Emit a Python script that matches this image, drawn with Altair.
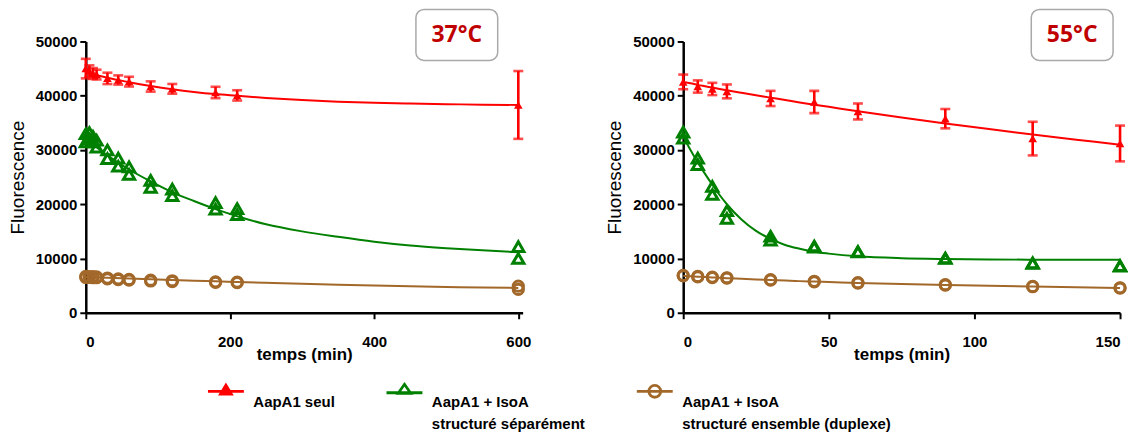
import altair as alt
import pandas as pd

SERIES = ["AapA1 seul", "AapA1 + IsoA\nstructuré séparément", "AapA1 + IsoA\nstructuré ensemble (duplexe)"]
COLORS = ["#ff0000", "#008000", "#a2682a"]
TEMPS = ["37°C", "55°C"]

# ---------- 37 °C ----------
T37 = [0, 5, 10, 15, 30, 45, 60, 90, 120, 180, 210, 600]
red37_mean = [45000, 44550, 44100, 43900, 43200, 42900, 42600, 41700, 41270, 40600, 40060, 38300]
red37_sd = [1800, 1050, 1000, 900, 1050, 850, 900, 950, 900, 1050, 950, 6250]
green37_a = [33000, 33200, 32500, 31800, 30000, 28500, 26900, 24400, 22800, 20300, 19200, 12200]
green37_b = [31500, 32000, 31500, 30500, 28400, 27000, 25500, 23100, 21600, 19100, 18100, 10000]
brown37_a = [6700, 6650, 6650, 6600, 6400, 6250, 6150, 6000, 5900, 5700, 5650, 4900]
brown37_b = [6500, 6500, 6450, 6450, 6250, 6100, 6000, 5850, 5750, 5600, 5550, 4300]
FIT37_T = [0, 15, 30, 60, 90, 120, 150, 180, 210, 250, 300, 350, 400, 450, 500, 550, 600]
red37_fit = [44300, 43800, 43300, 42500, 41800, 41200, 40700, 40300, 40000, 39600, 39200, 38900, 38700, 38550, 38450, 38350, 38300]
green37_fit = [32000, 30500, 29000, 26400, 24200, 22200, 20600, 19100, 17800, 16300, 15000, 14000, 13100, 12400, 11900, 11500, 11150]
brown37_fit = [6600, 6530, 6450, 6300, 6170, 6040, 5910, 5790, 5670, 5520, 5340, 5170, 5020, 4880, 4760, 4660, 4580]
X37_TICKS = [0, 200, 400, 600]

# ---------- 55 °C ----------
T55 = [0, 5, 10, 15, 30, 45, 60, 90, 120, 150]
red55_mean = [42550, 41700, 41250, 40800, 39500, 38850, 37100, 35770, 32100, 31200]
red55_sd = [1350, 1130, 1130, 1280, 1400, 2050, 1470, 1780, 3100, 3300]
green55_a = [33300, 28500, 23300, 18800, 14100, 12300, 11300, 10100, 9200, 8700]
green55_b = [32200, 27300, 21800, 17400, 13400, 12100, 11200, 10000, 9100, 8600]
brown55_a = [6900, 6700, 6580, 6450, 6100, 5800, 5550, 5170, 4850, 4600]
brown55_b = [6800, 6600, 6480, 6370, 6000, 5700, 5450, 5100, 4800, 4560]
FIT55_T = [0, 2.5, 5, 7.5, 10, 12.5, 15, 20, 25, 30, 35, 40, 45, 50, 60, 75, 90, 105, 120, 135, 150]
red55_fit = [42550, 42300, 42000, 41750, 41500, 41250, 41000, 40550, 40100, 39650, 39200, 38750, 38350, 37950,
             37150, 36000, 34900, 33850, 32850, 31900, 30950]
green55_fit = [32500, 30000, 27700, 25600, 23600, 21700, 20000, 17200, 15100, 13600, 12500, 11800, 11250, 10900,
               10400, 10050, 9900, 9820, 9780, 9760, 9750]
brown55_fit = [6800, 6720, 6650, 6580, 6510, 6440, 6380, 6250, 6130, 6030, 5930, 5830, 5740, 5660,
               5500, 5290, 5120, 4960, 4820, 4690, 4580]
X55_TICKS = [0, 50, 100, 150]

Y_TICKS = [0, 10000, 20000, 30000, 40000, 50000]

FONT = "Liberation Sans"

# legend glyphs (line + marker); red triangle drawn as nested outlines so it reads as filled
LEGEND_PATHS = [
    "M-1,-0.61H1M0,-0.95L0.3,-0.46L-0.3,-0.46ZM0,-0.82L0.16,-0.53L-0.16,-0.53ZM0,-0.7V-0.5",
    "M-1,-0.53H1M0,-1.0L0.35,-0.5L-0.35,-0.5Z",
    "M-1,-0.61H1M0.33,-0.61A0.33,0.33 0 1,1 -0.33,-0.61A0.33,0.33 0 1,1 0.33,-0.61Z",
]

color_scale = alt.Scale(domain=SERIES, range=COLORS)


def frame(t, vals, name):
    return pd.DataFrame({"t": t, "v": vals, "series": name})


def panel(temp, t, rmean, rsd, greens, browns, fit_t, rfit, gfit, bfit, xmax, xticks, width, box_x, legend):
    fits = pd.concat([frame(fit_t, rfit, SERIES[0]), frame(fit_t, gfit, SERIES[1]), frame(fit_t, bfit, SERIES[2])])
    red = pd.DataFrame({"t": t, "v": rmean, "series": SERIES[0]})
    red["lo"] = red["v"] - pd.Series(rsd)
    red["hi"] = red["v"] + pd.Series(rsd)
    green = pd.concat([frame(t, g, SERIES[1]) for g in greens])
    brown = pd.concat([frame(t, b, SERIES[2]) for b in browns])

    x = alt.X("t:Q", scale=alt.Scale(domain=[0, xmax], nice=False, zero=True),
              axis=alt.Axis(values=xticks, title="temps (min)", labelPadding=16, titleY=34,
                            titleBaseline="top"))
    y = alt.Y("v:Q", scale=alt.Scale(domain=[0, 50000], nice=False),
              axis=alt.Axis(values=Y_TICKS, format="d", title="Fluorescence", labelPadding=3, titlePadding=8,
                            titleFontWeight="normal", titleFontSize=19))
    if legend:
        col = alt.Color("series:N", scale=color_scale)
    else:
        col = alt.Color("series:N", scale=color_scale, legend=None)

    lines = alt.Chart(fits).mark_line(strokeWidth=2, interpolate="monotone").encode(x=x, y=y, color=col, detail="series:N")
    rules = alt.Chart(red).mark_rule(strokeWidth=2.6, color=COLORS[0]).encode(x=x, y=alt.Y("lo:Q"), y2="hi:Q")
    cap_lo = alt.Chart(red).mark_tick(orient="horizontal", size=10, thickness=2.6, color=COLORS[0]).encode(x=x, y=alt.Y("lo:Q"))
    cap_hi = alt.Chart(red).mark_tick(orient="horizontal", size=10, thickness=2.6, color=COLORS[0]).encode(x=x, y=alt.Y("hi:Q"))
    red_pts = alt.Chart(red).mark_point(shape="triangle-up", filled=True, size=75, opacity=1,
                                        color=COLORS[0]).encode(x=x, y=y)
    green_pts = alt.Chart(green).mark_point(shape="triangle-up", filled=False, size=125, strokeWidth=3, opacity=1,
                                            color=COLORS[1]).encode(x=x, y=y)
    brown_pts = alt.Chart(brown).mark_point(shape="circle", filled=False, size=105, strokeWidth=3, opacity=1,
                                            color=COLORS[2]).encode(x=x, y=y)

    box_df = pd.DataFrame({"label": [temp]})
    box = alt.Chart(box_df).mark_rect(cornerRadius=8, fill="white", stroke="#a9a9a9", strokeWidth=1.5).encode(
        x=alt.value(box_x), x2=alt.value(box_x + 82), y=alt.value(-32), y2=alt.value(19))
    box_text = alt.Chart(box_df).mark_text(font="Open Sans", fontSize=23, fontWeight="bold", color="#c00000",
                                           baseline="middle", align="center").encode(
        x=alt.value(box_x + 41), y=alt.value(-6), text="label:N")

    layers = [lines, rules, cap_lo, cap_hi, green_pts, brown_pts, red_pts, box, box_text]

    if legend:
        leg = alt.Legend(title=None, orient="none", legendX=121, legendY=342, direction="horizontal", columns=3,
                         columnPadding=45, symbolSize=1296, symbolStrokeWidth=2.8, symbolOpacity=1,
                         symbolFillColor="white",
                         labelFont=FONT, labelFontSize=15, labelFontWeight="bold", labelColor="black",
                         labelOffset=8, labelLimit=400, padding=0,
                         labelExpr="indexof(datum.label, '\\n') < 0 ? [datum.label, ''] : split(datum.label, '\\n')")
        leg_layer = alt.Chart(fits).mark_point(opacity=0).encode(
            x=x, y=y,
            color=alt.Color("series:N", scale=color_scale, legend=leg),
            shape=alt.Shape("series:N", scale=alt.Scale(domain=SERIES, range=LEGEND_PATHS), legend=leg),
        )
        layers = [leg_layer] + layers

    return alt.layer(*layers).properties(width=width, height=272)


left = panel(TEMPS[0], T37, red37_mean, red37_sd, [green37_a, green37_b], [brown37_a, brown37_b],
             FIT37_T, red37_fit, green37_fit, brown37_fit, 606, X37_TICKS, 438, 331, True)
right = panel(TEMPS[1], T55, red55_mean, red55_sd, [green55_a, green55_b], [brown55_a, brown55_b],
              FIT55_T, red55_fit, green55_fit, brown55_fit, 150, X55_TICKS, 438, 349, False)

chart = alt.hconcat(left, right, spacing=161, bounds="flush").properties(
    padding={"left": 0, "top": 0, "right": 5, "bottom": 0}
).configure(
    style={"guide-label": {"lineHeight": 22}}, background="white"
).configure_view(stroke=None).configure_axis(
    domainColor="black", domainWidth=2.5, tickColor="black", tickWidth=2, tickSize=6, grid=False,
    labelFont=FONT, labelFontSize=15, labelFontWeight="bold", labelColor="black",
    titleFont=FONT, titleFontSize=17, titleFontWeight="bold", titleColor="black",
)

chart.save("out.html", embed_options={"renderer": "svg", "actions": False})
